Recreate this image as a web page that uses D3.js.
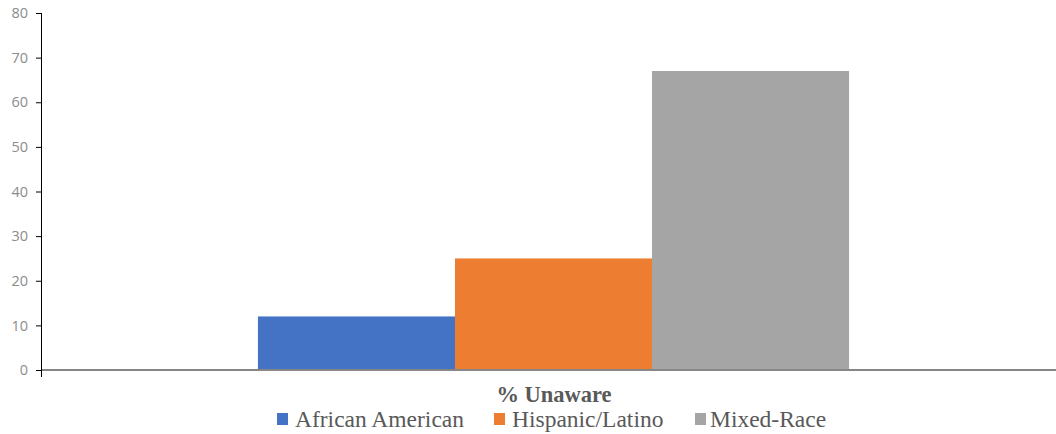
<!DOCTYPE html>
<html lang="en">
<head>
    <meta charset="UTF-8">
    <title>% Unaware</title>
    <script src="https://d3js.org/d3.v7.min.js"></script>
    <style>
        body { margin: 0; background: #fff; }
        svg { display: block; }
    </style>
</head>
<body>

    <svg width="1056" height="434"></svg>

    <script>
        // data
        const groups = ["African American", "Hispanic/Latino", "Mixed-Race"];
        const values = [12, 25, 67];
        const colors = ["#4472c4", "#ed7d31", "#a5a5a5"];
        const yTicks = [0, 10, 20, 30, 40, 50, 60, 70, 80];
        const category = "% Unaware";

        const width = 1056;
        const margin = { top: 13, left: 41 };
        const svg = d3.select("svg");

        const y = d3.scaleLinear()
            .domain([0, 80])
            .range([370, margin.top]);

        // one category spanning the plot, the bars sit in the middle of it
        const x0 = d3.scaleBand()
            .domain([category])
            .range([margin.left, 1066])
            .paddingInner(0)
            .paddingOuter(0.367);

        const x1 = d3.scaleBand()
            .domain(groups)
            .range([0, x0.bandwidth()]);

        const g = svg.append("g")
            .attr("transform", `translate(${x0(category)},0)`);

        g.selectAll("rect")
            .data(groups)
            .join("rect")
            .attr("x", d => x1(d))
            .attr("width", x1.bandwidth())
            .attr("y", (d, i) => y(values[i]))
            .attr("height", (d, i) => y(0) - y(values[i]))
            .attr("fill", (d, i) => colors[i]);

        // baseline
        svg.append("line")
            .attr("x1", margin.left)
            .attr("x2", width)
            .attr("y1", y(0))
            .attr("y2", y(0))
            .attr("stroke", "#868686")
            .attr("stroke-width", 2);

        // y axis
        const yAxis = svg.append("g")
            .attr("transform", `translate(${margin.left},0)`)
            .call(d3.axisLeft(y).tickValues(yTicks).tickSize(5).tickSizeOuter(0));
        yAxis.select(".domain").remove();
        yAxis.selectAll(".tick line").attr("stroke", "#000");
        yAxis.selectAll(".tick text")
            .attr("x", -13)
            .attr("fill", "#8c8c8c")
            .attr("font-family", "'Open Sans', sans-serif")
            .attr("font-size", 14.5);
        svg.append("line")
            .attr("x1", margin.left + 0.5)
            .attr("x2", margin.left + 0.5)
            .attr("y1", margin.top)
            .attr("y2", y(0) + 7)
            .attr("stroke", "#000")
            .attr("stroke-width", 1);

        // category label
        svg.append("text")
            .attr("x", 554)
            .attr("y", 402)
            .attr("text-anchor", "middle")
            .attr("font-family", "'Liberation Serif', 'Times New Roman', serif")
            .attr("font-weight", "bold")
            .attr("font-size", 22.5)
            .attr("fill", "#595959")
            .text(category);

        // legend
        const legendBox = [277, 494, 695];
        const legendText = [295, 512, 710];
        const legend = svg.append("g");
        groups.forEach((name, i) => {
            legend.append("rect")
                .attr("x", legendBox[i])
                .attr("y", 413)
                .attr("width", 11)
                .attr("height", 12)
                .attr("fill", colors[i]);
            legend.append("text")
                .attr("x", legendText[i])
                .attr("y", 427)
                .attr("font-family", "'Liberation Serif', 'Times New Roman', serif")
                .attr("font-size", 23.5)
                .attr("fill", "#595959")
                .text(name);
        });
    </script>

</body>
</html>
